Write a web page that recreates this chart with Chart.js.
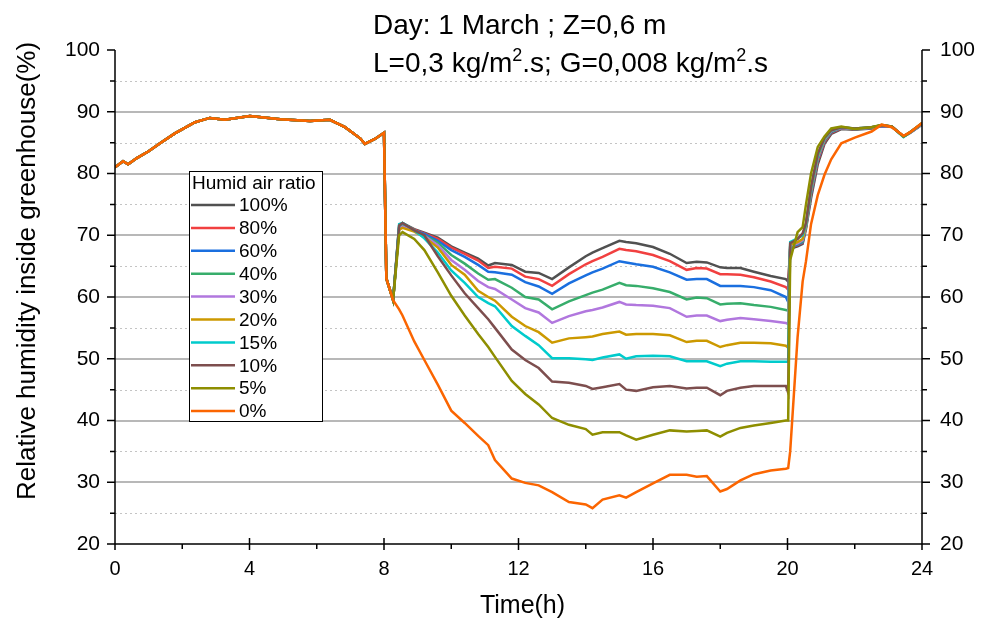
<!DOCTYPE html>
<html>
<head>
<meta charset="utf-8">
<title>Relative humidity inside greenhouse</title>
<script src="https://cdn.jsdelivr.net/npm/chart.js@4.4.0/dist/chart.umd.min.js"></script>
<style>
  html, body { margin: 0; padding: 0; background: #fff; }
  #wrap { width: 989px; height: 621px; position: relative; }
</style>
</head>
<body>
<div id="wrap"><canvas id="rh-chart" width="989" height="621"></canvas></div>
<script>
// time of day (h), shared by all series
const hours = [0, 0.24, 0.39, 0.65, 1.0, 1.34, 1.78, 2.38, 2.82, 3.27, 4.01, 4.91, 5.8, 6.39, 6.84, 7.29, 7.43, 7.73, 8.0, 8.07, 8.27,
    8.45, 8.55, 8.9, 9.2, 9.6, 10.0, 10.4, 10.8, 11.1, 11.3, 11.8, 12.2, 12.6, 13.0, 13.5, 14.0, 14.2, 14.5, 15.0, 15.2,
    15.5, 16.0, 16.5, 17.0, 17.3, 17.6, 18.0, 18.2, 18.6, 19.0, 19.5, 19.95,
    20.02, 20.08, 20.3, 20.45, 20.55, 20.7, 20.9, 21.1, 21.3, 21.6, 22.0, 22.5, 22.8, 23.1, 23.45, 23.65, 24];

// night / morning part is the same for every ratio
const rhMorning = [81, 82, 81.5, 82.5, 83.6, 84.9, 86.5, 88.3, 89.0, 88.7, 89.3, 88.8, 88.5, 88.7, 87.5, 85.7, 84.8, 85.6, 86.6, 63, 59.5];

const rh100 = [...rhMorning,
    71.5, 72.0, 71.0, 70.4, 69.6, 68.2, 67.2, 66.2, 65.1, 65.5, 65.2, 64.1, 63.9, 62.9, 64.8, 66.6, 67.2, 67.9, 69.1, 68.9,
    68.7, 68.1, 67.0, 65.5, 65.7, 65.6, 64.8, 64.7, 64.7, 64.1, 63.4, 62.9,
    62.5, 67.8, 68.2, 68.6, 71.0, 76.0, 81.5, 84.8, 86.4, 87.2, 87.1, 87.3, 87.7, 87.6, 86.0, 86.6, 87.9];
const rh80 = [...rhMorning,
    71.3, 71.8, 70.9, 70.3, 69.4, 68.0, 67.0, 65.9, 64.7, 64.9, 64.6, 63.3, 62.9, 61.8, 63.7, 65.3, 65.8, 66.5, 67.8, 67.6,
    67.4, 66.8, 65.8, 64.4, 64.7, 64.6, 63.7, 63.7, 63.6, 63.2, 62.5, 61.6,
    61.2, 68.0, 68.4, 68.8, 71.3, 76.6, 82.0, 85.1, 86.6, 87.3, 87.2, 87.4, 87.7, 87.6, 86.0, 86.6, 88.0];
const rh60 = [...rhMorning,
    71.2, 71.6, 70.8, 70.2, 69.1, 67.6, 66.5, 65.2, 64.1, 64.0, 63.6, 62.4, 61.7, 60.5, 62.2, 63.5, 64.0, 64.6, 65.8, 65.6,
    65.3, 64.9, 64.0, 62.8, 62.9, 62.9, 61.8, 61.8, 61.8, 61.6, 61.1, 60.0,
    59.2, 68.1, 68.5, 68.9, 71.4, 76.8, 82.3, 85.3, 86.7, 87.4, 87.2, 87.4, 87.7, 87.6, 86.0, 86.6, 88.0];
const rh40 = [...rhMorning,
    71.0, 71.5, 70.8, 70.0, 68.8, 66.8, 65.4, 63.8, 62.8, 62.9, 61.5, 60.0, 59.6, 58.0, 59.3, 60.3, 60.7, 61.2, 62.3, 61.9,
    61.8, 61.4, 60.8, 59.6, 59.9, 59.8, 58.8, 58.9, 59.0, 58.7, 58.4, 57.9,
    57.8, 68.2, 68.6, 69.0, 71.5, 77.0, 82.5, 85.4, 86.8, 87.4, 87.2, 87.4, 87.8, 87.6, 86.0, 86.6, 88.0];
const rh30 = [...rhMorning,
    71.0, 71.4, 70.7, 69.9, 68.4, 66.0, 64.4, 62.6, 61.6, 61.3, 59.6, 58.2, 57.5, 55.8, 56.9, 57.7, 57.9, 58.3, 59.2, 58.8,
    58.7, 58.6, 58.2, 56.8, 57.0, 57.0, 56.1, 56.3, 56.6, 56.4, 56.1, 55.8,
    55.6, 68.3, 68.7, 69.2, 71.6, 77.2, 82.6, 85.5, 86.9, 87.4, 87.2, 87.4, 87.8, 87.6, 86.0, 86.6, 88.0];
const rh20 = [...rhMorning,
    70.9, 71.2, 70.6, 69.7, 68.0, 65.2, 63.6, 61.0, 60.0, 59.4, 56.8, 55.3, 54.3, 52.6, 53.3, 53.5, 53.6, 54.0, 54.4, 53.9,
    54.0, 54.0, 53.8, 52.7, 52.9, 52.9, 51.9, 52.2, 52.6, 52.6, 52.5, 52.1,
    51.8, 68.5, 68.9, 69.4, 71.7, 77.4, 82.8, 85.6, 87.0, 87.5, 87.3, 87.5, 87.8, 87.6, 86.0, 86.7, 88.1];
const rh15 = [...rhMorning,
    71.8, 72.0, 70.8, 69.5, 67.2, 64.3, 62.3, 60.0, 59.0, 58.5, 55.3, 53.7, 52.2, 50.1, 50.1, 49.9, 49.8, 50.2, 50.7, 50.0,
    50.4, 50.5, 50.4, 49.6, 49.6, 49.6, 48.8, 49.2, 49.6, 49.6, 49.5, 49.5,
    49.5, 68.9, 69.5, 70.0, 71.8, 77.6, 83.0, 85.7, 87.0, 87.5, 87.3, 87.5, 87.8, 87.6, 85.9, 86.7, 88.1];
const rh10 = [...rhMorning,
    71.6, 72.0, 70.8, 70.0, 66.6, 63.5, 60.6, 58.2, 56.4, 55.0, 51.5, 49.8, 48.5, 46.3, 46.1, 45.6, 45.1, 45.4, 45.9, 45.0,
    44.8, 45.4, 45.6, 45.2, 45.3, 45.3, 44.1, 44.8, 45.3, 45.6, 45.6, 45.6,
    44.5, 68.7, 69.4, 70.3, 72.0, 77.8, 83.2, 85.8, 87.0, 87.5, 87.3, 87.5, 87.8, 87.6, 86.0, 86.7, 88.1];
const rh5 = [...rhMorning,
    70.0, 70.5, 69.4, 67.6, 64.0, 60.2, 57.0, 54.0, 51.9, 50.3, 46.4, 44.3, 42.6, 40.4, 39.3, 38.6, 37.7, 38.1, 38.1, 37.6,
    36.9, 37.7, 38.4, 38.2, 38.3, 38.4, 37.4, 38.0, 38.8, 39.2, 39.6, 40.0,
    40.0, 66.0, 70.5, 71.3, 75.0, 80.0, 84.3, 86.0, 87.3, 87.6, 87.2, 87.5, 87.9, 87.6, 86.0, 86.7, 88.2];
const rh0 = [...rhMorning,
    58.0, 57.0, 52.8, 49.8, 45.8, 41.6, 39.6, 37.5, 36.0, 33.6, 30.6, 29.9, 29.5, 28.4, 26.8, 26.4, 25.8, 27.2, 27.9, 27.5,
    28.4, 29.8, 31.2, 31.2, 30.9, 31.0, 28.5, 28.9, 30.3, 31.3, 31.9, 32.2,
    32.3, 35.0, 53.5, 62.5, 65.8, 71.8, 76.5, 79.8, 82.3, 84.9, 85.8, 86.8, 87.9, 87.5, 86.1, 86.7, 88.2];

const seriesLabels = ['100%', '80%', '60%', '40%', '30%', '20%', '15%', '10%', '5%', '0%'];
const seriesValues = [rh100, rh80, rh60, rh40, rh30, rh20, rh15, rh10, rh5, rh0];
const seriesColors = ['#515151', '#F14040', '#1A6FDF', '#37AD6B', '#B177DE', '#CC9900', '#00CBCC', '#7D4E4E', '#8E8E00', '#FB6501'];

const xMajorTicks = [0, 4, 8, 12, 16, 20, 24];
const xMinorTicks = [2, 6, 10, 14, 18, 22];
const yMajorTicks = [20, 30, 40, 50, 60, 70, 80, 90, 100];
const yMinorTicks = [25, 35, 45, 55, 65, 75, 85, 95];

const FONT = "'Liberation Sans', Arial, Helvetica, sans-serif";

// text with superscript parts, e.g. m² drawn as a raised smaller 2
function drawRichText(ctx, parts, x, y, size) {
    ctx.textBaseline = 'alphabetic';
    ctx.textAlign = 'left';
    parts.forEach(p => {
        const sup = p[1];
        ctx.font = (sup ? Math.round(size * 0.66) : size) + 'px ' + FONT;
        ctx.fillText(p[0], x, sup ? y - size * 0.4 : y);
        x += ctx.measureText(p[0]).width;
    });
}

const framePlugin = {
    id: 'frame',
    beforeDatasetsDraw(chart) {
        const { ctx, chartArea: a, scales } = chart;
        ctx.save();
        // minor dotted lines
        ctx.strokeStyle = '#c4c4c4';
        ctx.lineWidth = 1;
        ctx.setLineDash([2, 3]);
        yMinorTicks.forEach(v => {
            const y = Math.round(scales.y.getPixelForValue(v)) + 0.5;
            ctx.beginPath(); ctx.moveTo(a.left, y); ctx.lineTo(a.right, y); ctx.stroke();
        });
        // major solid lines
        ctx.setLineDash([]);
        ctx.strokeStyle = '#a0a0a0';
        ctx.lineWidth = 1.6;
        yMajorTicks.filter(v => v > 20 && v < 100).forEach(v => {
            const y = Math.round(scales.y.getPixelForValue(v));
            ctx.beginPath(); ctx.moveTo(a.left, y); ctx.lineTo(a.right, y); ctx.stroke();
        });
        ctx.restore();
    },
    afterDatasetsDraw(chart) {
        const { ctx, chartArea: a, scales } = chart;
        ctx.save();
        ctx.strokeStyle = '#000';
        ctx.lineWidth = 1.5;
        ctx.beginPath();
        ctx.moveTo(a.left, a.top); ctx.lineTo(a.left, a.bottom);
        ctx.moveTo(a.right, a.top); ctx.lineTo(a.right, a.bottom);
        ctx.moveTo(a.left, a.bottom); ctx.lineTo(a.right, a.bottom);
        yMajorTicks.forEach(v => {
            const y = scales.y.getPixelForValue(v);
            ctx.moveTo(a.left - 8, y); ctx.lineTo(a.left, y);
            ctx.moveTo(a.right, y); ctx.lineTo(a.right + 8, y);
        });
        yMinorTicks.forEach(v => {
            const y = scales.y.getPixelForValue(v);
            ctx.moveTo(a.left - 5, y); ctx.lineTo(a.left, y);
            ctx.moveTo(a.right, y); ctx.lineTo(a.right + 5, y);
        });
        xMajorTicks.forEach(v => {
            const x = scales.x.getPixelForValue(v);
            ctx.moveTo(x, a.bottom - 6); ctx.lineTo(x, a.bottom + 6);
        });
        xMinorTicks.forEach(v => {
            const x = scales.x.getPixelForValue(v);
            ctx.moveTo(x, a.bottom); ctx.lineTo(x, a.bottom + 5);
        });
        ctx.stroke();

        // legend box inside the plot
        const bx = 189, by = 171, bw = 133, bh = 250;
        ctx.fillStyle = '#fff';
        ctx.fillRect(bx, by, bw, bh);
        ctx.lineWidth = 1;
        ctx.strokeRect(bx + 0.5, by + 0.5, bw, bh);
        ctx.fillStyle = '#000';
        ctx.font = '19px ' + FONT;
        ctx.textBaseline = 'middle';
        ctx.textAlign = 'left';
        ctx.fillText('Humid air ratio', bx + 3, by + 13);
        chart.data.datasets.forEach((ds, i) => {
            const y = by + 34 + i * 22.9;
            ctx.strokeStyle = ds.borderColor;
            ctx.lineWidth = 2.5;
            ctx.beginPath(); ctx.moveTo(bx + 2, y); ctx.lineTo(bx + 46, y); ctx.stroke();
            ctx.fillText(ds.label, bx + 50, y + 1);
        });

        // titles
        drawRichText(ctx, [['Day: 1 March ; Z=0,6 m', false]], 373, 34, 28);
        drawRichText(ctx, [['L=0,3 kg/m', false], ['2', true], ['.s; G=0,008 kg/m', false], ['2', true], ['.s', false]], 373, 72, 28);
        ctx.font = '25px ' + FONT;
        ctx.textAlign = 'center';
        ctx.textBaseline = 'alphabetic';
        ctx.fillText('Time(h)', (a.left + a.right) / 2 + 4, 613);
        ctx.font = '26px ' + FONT;
        ctx.translate(35, 271);
        ctx.rotate(-Math.PI / 2);
        ctx.fillText('Relative humidity inside greenhouse(%)', 0, 0);
        ctx.restore();
    }
};

function fixTicks(list) {
    return scale => { scale.ticks = list.map(v => ({ value: v })); };
}

const ctx = document.getElementById('rh-chart').getContext('2d');
const rhChart = new Chart(ctx, {
    type: 'line',
    data: {
        datasets: seriesLabels.map((label, i) => ({
            label: label,
            data: hours.map((h, k) => ({ x: h, y: seriesValues[i][k] })),
            borderColor: seriesColors[i],
            backgroundColor: seriesColors[i],
            borderWidth: 2.5,
            pointRadius: 0,
            tension: 0,
            fill: false,
            order: seriesLabels.length - 1 - i   // 0% ends up on top
        }))
    },
    options: {
        responsive: false,
        animation: false,
        layout: { padding: { top: 50, left: 0, right: 0, bottom: 0 } },
        plugins: { legend: { display: false }, tooltip: { enabled: false } },
        scales: {
            x: {
                type: 'linear', min: 0, max: 24,
                afterBuildTicks: fixTicks(xMajorTicks),
                afterFit: s => { s.height = 77; },
                grid: { display: false, drawTicks: false },
                border: { display: false },
                ticks: { color: '#000', font: { family: FONT, size: 20 }, padding: 13, maxRotation: 0 }
            },
            y: {
                position: 'left', min: 20, max: 100,
                afterBuildTicks: fixTicks(yMajorTicks),
                afterFit: s => { s.width = 115; },
                grid: { display: false, drawTicks: false },
                border: { display: false },
                ticks: { color: '#000', font: { family: FONT, size: 21 }, padding: 15 }
            },
            y2: {
                position: 'right', min: 20, max: 100,
                afterBuildTicks: fixTicks(yMajorTicks),
                afterFit: s => { s.width = 67; },
                grid: { display: false, drawTicks: false },
                border: { display: false },
                ticks: { color: '#000', font: { family: FONT, size: 21 }, padding: 18 }
            }
        }
    },
    plugins: [framePlugin]
});
</script>
</body>
</html>
